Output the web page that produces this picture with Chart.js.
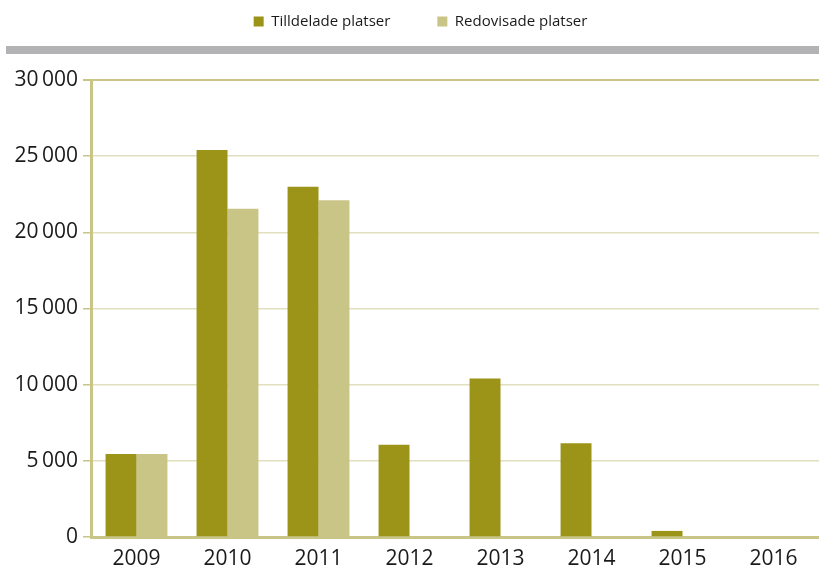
<!DOCTYPE html>
<html>
<head>
<meta charset="utf-8">
<script src="https://cdn.jsdelivr.net/npm/chart.js@4/dist/chart.umd.min.js"></script>
<style>
  html, body { margin: 0; padding: 0; background: #fff; }
  #wrap { position: relative; width: 819px; height: 568px; overflow: hidden; }
  #chart { position: absolute; left: 0; top: -33px; }
  #band { position: absolute; left: 6px; top: 46px; width: 813px; height: 8px; background: #b3b3b5; }
</style>
</head>
<body>
<div id="wrap">
  <canvas id="chart" width="819" height="601"></canvas>
  <div id="band"></div>
</div>
<script>
const years = ['2009', '2010', '2011', '2012', '2013', '2014', '2015', '2016'];
const tilldelade = [5450, 25400, 23000, 6050, 10400, 6150, 400, 0];
const redovisade = [5450, 21550, 22100, 0, 0, 0, 0, 0];

const dark = '#9c9419';
const light = '#c9c587';

// legend: extra room below it for the grey band, and nudged a bit right
const legendTweak = {
  id: 'legendTweak',
  beforeInit(chart) {
    const legend = chart.legend;
    const fit = legend.fit;
    legend.fit = function () {
      fit.call(this);
      this.height += 41;
    };
    const draw = legend.draw;
    legend.draw = function () {
      const ctx = this.ctx;
      ctx.save();
      ctx.translate(11, 0);
      draw.call(this);
      ctx.restore();
    };
  },
};

const fmt = v => String(v).replace(/\B(?=(\d{3})+(?!\d))/g, '\u2009');

new Chart(document.getElementById('chart'), {
  type: 'bar',
  data: {
    labels: years,
    datasets: [{
      label: 'Tilldelade platser',
      data: tilldelade,
      backgroundColor: dark,
    }, {
      label: 'Redovisade platser',
      data: redovisade,
      backgroundColor: light,
    }]
  },
  options: {
    responsive: false,
    animation: false,
    layout: { padding: 0 },
    datasets: {
      bar: { categoryPercentage: 0.68, barPercentage: 1 },
    },
    plugins: {
      legend: {
        position: 'top',
        labels: {
          boxWidth: 10,
          boxHeight: 10,
          padding: 47,
          color: '#1a1a1a',
          font: { family: 'Open Sans', size: 15 },
        },
      },
      tooltip: { enabled: false },
    },
    scales: {
      x: {
        afterFit(scale) { scale.height = 31; },
        grid: { display: false },
        border: { color: light, width: 3 },
        ticks: { color: '#1a1a1a', font: { family: 'Open Sans', size: 21 }, padding: 1 },
      },
      y: {
        min: 0,
        max: 30000,
        afterFit(scale) { scale.width = 91; },
        ticks: {
          stepSize: 5000,
          color: '#1a1a1a',
          padding: 5,
          font: { family: 'Open Sans', size: 21 },
          callback: v => fmt(v),
        },
        grid: {
          color: ctx => (ctx.tick && (ctx.tick.value === 30000 || ctx.tick.value === 0)) ? light : '#e2dfbe',
          lineWidth: ctx => (ctx.tick && ctx.tick.value === 30000) ? 2 : 1.5,
          tickLength: 8,
          tickColor: light,
        },
        border: { color: light, width: 3 },
      },
    },
  },
  plugins: [legendTweak],
});
</script>
</body>
</html>
